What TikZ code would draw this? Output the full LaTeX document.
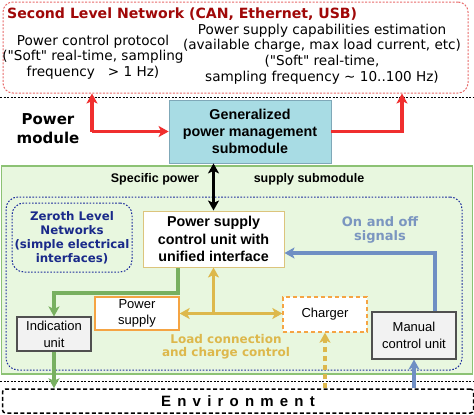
\documentclass[tikz,border=0pt]{standalone}
\usepackage{fontspec}
\setmainfont{Liberation Sans}
\newfontfamily\vfont{DejaVu Sans}
\usetikzlibrary{arrows.meta}
\definecolor{netred}{HTML}{E86A6A}
\definecolor{titlered}{HTML}{A00808}
\definecolor{arrred}{HTML}{F02E2E}
\definecolor{cyanfill}{HTML}{A8DCE4}
\definecolor{cyanline}{HTML}{7FA8B8}
\definecolor{greenfill}{HTML}{E8F7DF}
\definecolor{greenline}{HTML}{8CC274}
\definecolor{dotblue}{HTML}{1C2C9C}
\definecolor{zerotext}{HTML}{1A2A8A}
\definecolor{ctrlline}{HTML}{DCC47C}
\definecolor{tanc}{HTML}{DDB84C}
\definecolor{onoffc}{HTML}{7B96C0}
\definecolor{bluearrc}{HTML}{6F8FC4}
\definecolor{greenarrc}{HTML}{78B060}
\definecolor{orangec}{HTML}{F5A443}
\definecolor{grayfill}{HTML}{F2F2F2}
\definecolor{grayline}{HTML}{505050}
\begin{document}
\begin{tikzpicture}[x=1pt,y=-1pt,
  tip/.style={-{Stealth[length=10pt,width=11pt,inset=2.5pt]}},
  dtip/.style={{Stealth[length=10pt,width=11pt,inset=2.5pt]}-{Stealth[length=10pt,width=11pt,inset=2.5pt]}},
  netbox/.style={draw=netred, line width=1pt, dash pattern=on 2pt off 1.5pt, rounded corners=10pt, minimum width=465pt, minimum height=91pt, inner sep=0pt},
  titletext/.style={font=\vfont\bfseries\fontsize{14.1}{16}\selectfont, text=titlered, inner sep=0pt},
  toptext/.style={font=\vfont\fontsize{13.6}{15.6}\selectfont, align=center, inner sep=0pt},
  genbox/.style={draw=cyanline, fill=cyanfill, line width=0.8pt, minimum width=162pt, minimum height=63pt, align=center, font=\bfseries\fontsize{14.3}{17}\selectfont, inner sep=0pt},
  pmtext/.style={font=\vfont\bfseries\fontsize{15}{19}\selectfont, align=center, inner sep=0pt},
  greenbox/.style={draw=greenline, fill=greenfill, line width=1.6pt, minimum width=471pt, minimum height=208pt, inner sep=0pt},
  spectext/.style={font=\bfseries\fontsize{12.5}{14}\selectfont, inner sep=0pt},
  bluedot/.style={draw=dotblue, line width=1pt, dash pattern=on 1.6pt off 1.6pt, rounded corners=12pt, inner sep=0pt},
  zerotextst/.style={font=\vfont\bfseries\fontsize{11.8}{14}\selectfont, text=zerotext, align=center},
  ctrlbox/.style={draw=ctrlline, fill=white, line width=1pt, minimum width=141pt, minimum height=56pt, align=center, font=\bfseries\fontsize{14.3}{17.5}\selectfont, inner sep=0pt},
  onofftext/.style={font=\vfont\bfseries\fontsize{13}{14.5}\selectfont, text=onoffc, align=center, inner sep=0pt},
  graybox/.style={draw=grayline, fill=grayfill, line width=1.1pt, align=center, font=\fontsize{13}{17}\selectfont, inner sep=0pt},
  orangebox/.style={draw=orangec, fill=white, line width=1.3pt, align=center, font=\fontsize{13}{16.5}\selectfont, inner sep=0pt},
  tantext/.style={font=\vfont\bfseries\fontsize{12}{13.5}\selectfont, text=tanc, align=center, inner sep=0pt},
  envbox/.style={draw=black, line width=1.5pt, dash pattern=on 4pt off 2.5pt, rounded corners=3pt, minimum width=471pt, minimum height=24pt, font=\bfseries\fontsize{15}{16}\selectfont, inner sep=0pt},
  dotline/.style={draw=black, line width=0.8pt, dash pattern=on 2pt off 1.5pt},
  redarr/.style={draw=arrred, line width=3.2pt},
  blkarr/.style={draw=black, line width=2.6pt},
  tanarr/.style={draw=tanc, line width=3.2pt},
  bluearr/.style={draw=bluearrc, line width=3.2pt},
  greenarr/.style={draw=greenarrc, line width=3.2pt}
]
\useasboundingbox (0,0) rectangle (474,415);
\fill[white] (0,0) rectangle (474,415);

% top network
\node[netbox] (net) at (235.5,47.5) {};
\node[titletext, anchor=west] (title) at (7,14) {Second Level Network (CAN, Ethernet, USB)};
\node[toptext] (pcp) at (93,57) {Power control protocol\\("Soft" real-time, sampling\\frequency \ \ > 1 Hz)};
\node[toptext] (pse) at (322,54) {Power supply capabilities estimation\\(available charge, max load current, etc)\\("Soft" real-time,\\sampling frequency \textasciitilde\ 10..100 Hz)};

% dotted separators
\coordinate (d1l) at (0,97);
\coordinate (d1r) at (474,97);
\draw[dotline] (d1l) -- (d1r);

% power module
\node[pmtext] (pmod) at (48,129) {Power\\module};
\node[genbox] (gen) at (250,131.5) {Generalized\\power management\\submodule};

% green submodule
\node[greenbox] (spec) at (237,270) {};
\node[spectext] (sp1) at (155,179) {Specific power};
\node[spectext] (sp2) at (309,179) {supply submodule};

\node[bluedot, minimum width=456pt, minimum height=173pt] (zero) at (234,283.5) {};
\node[bluedot, minimum width=120pt, minimum height=69pt, zerotextst] (zl) at (72,237.5) {Zeroth Level\\Networks\\(simple electrical\\interfaces)};

\node[ctrlbox] (cu) at (213.5,239) {Power supply\\control unit with\\unified interface};
\node[onofftext] (oo) at (380,230) {On and off\\signals};

\node[graybox, minimum width=74pt, minimum height=34pt] (ind) at (54,334) {Indication\\unit};
\node[orangebox, minimum width=84pt, minimum height=33pt] (ps) at (137,313.5) {Power\\supply};
\node[orangebox, dash pattern=on 4pt off 3pt, minimum width=84pt, minimum height=35pt] (ch) at (325,314.5) {Charger};
\node[graybox, minimum width=84pt, minimum height=47pt] (mcu) at (414,335.5) {Manual\\control unit};
\node[tantext] (lcc) at (226,346.5) {Load connection\\and charge control};

\coordinate (d2l) at (0,381);
\coordinate (d2r) at (474,381);
\draw[dotline] (d2l) -- (d2r);
\node[envbox] (env) at (238,401) {\spaceskip=6.2pt plus 0pt minus 0pt E n v i r o n m e n t};

% red arrows
\coordinate (rl) at (92,0);
\coordinate (rr) at (402,0);
\draw[redarr, tip] (gen.west -| rl) -- (net.south -| rl);
\draw[redarr, tip] (gen.west -| rl) -- (gen.west);
\draw[redarr, tip] (gen.east) -| (net.south -| rr);

% black double arrow
\draw[blkarr, dtip] (cu.north |- gen.south) -- (cu.north);

% blue arrows
\coordinate (bturn) at (435,253);
\draw[bluearr, tip] (mcu.north -| bturn) -- (bturn) -- (bturn -| cu.east);
\draw[bluearr, tip] (mcu.south |- env.north) -- (mcu.south);

% green arrows
\coordinate (gturn) at (178,293);
\draw[greenarr, tip] (cu.south -| gturn) -- (gturn) -| (ind.north);
\draw[greenarr, tip] (ind.south) -- (ind.south |- env.north);

% tan arrows
\draw[tanarr, dtip] (ps.east) -- (ps.east -| ch.west);
\draw[tanarr, tip] (cu.south |- ps.east) -- (cu.south);
\draw[tanarr, dash pattern=on 5pt off 4pt, tip] (ch.south |- env.north) -- (ch.south);
\end{tikzpicture}
\end{document}
